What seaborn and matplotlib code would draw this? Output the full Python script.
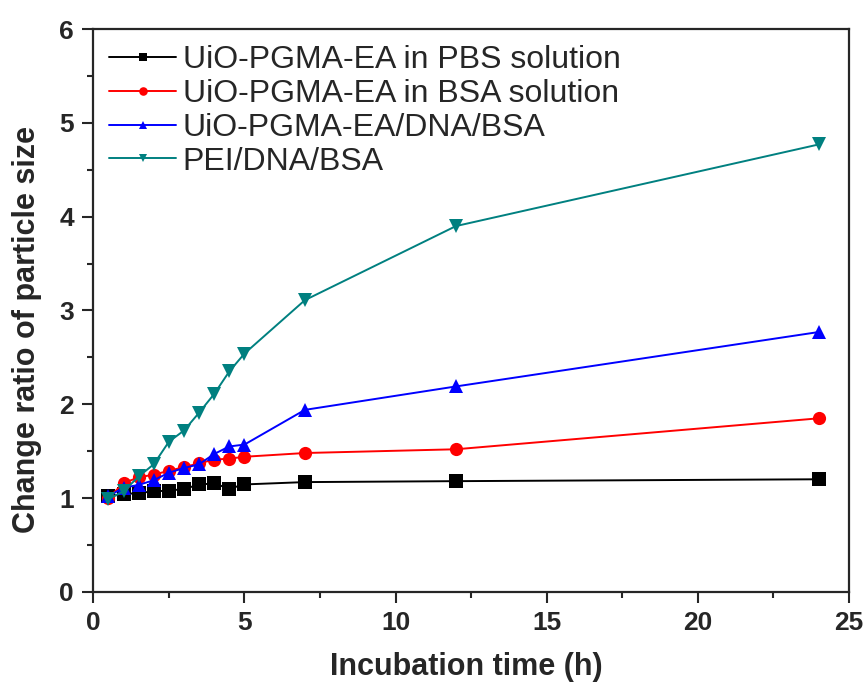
import matplotlib
matplotlib.use('Agg')
import matplotlib.pyplot as plt
import seaborn as sns
import pandas as pd
from matplotlib.ticker import MultipleLocator

# incubation time (h)
time_h = [0.5, 1, 1.5, 2, 2.5, 3, 3.5, 4, 4.5, 5, 7, 12, 24]

# change ratio of particle size for each sample
pbs = [1.02, 1.04, 1.055, 1.07, 1.08, 1.095, 1.145, 1.155, 1.10, 1.145, 1.17, 1.18, 1.20]
bsa = [1.00, 1.16, 1.22, 1.25, 1.29, 1.33, 1.37, 1.41, 1.42, 1.44, 1.48, 1.52, 1.85]
dna_bsa = [1.02, 1.11, 1.14, 1.19, 1.27, 1.32, 1.36, 1.47, 1.55, 1.57, 1.94, 2.19, 2.77]
pei = [0.99, 1.07, 1.23, 1.36, 1.60, 1.72, 1.91, 2.11, 2.35, 2.54, 3.11, 3.90, 4.77]

labels = ['UiO-PGMA-EA in PBS solution', 'UiO-PGMA-EA in BSA solution',
          'UiO-PGMA-EA/DNA/BSA', 'PEI/DNA/BSA']
colors = ['black', '#ff0000', '#0000ff', '#008080']
markers = ['s', 'o', '^', 'v']

frames = []
for lab, vals in zip(labels, [pbs, bsa, dna_bsa, pei]):
    frames.append(pd.DataFrame({'time': time_h, 'ratio': vals, 'sample': lab}))
df = pd.concat(frames, ignore_index=True)

sns.set_style('ticks')
plt.rcParams['font.family'] = ['Liberation Sans', 'DejaVu Sans']

fig = plt.figure(figsize=(8.68, 6.93), dpi=100)
ax = fig.add_axes([0.1075, 0.146, 0.8705, 0.812])

sns.lineplot(data=df, x='time', y='ratio', hue='sample', style='sample',
             hue_order=labels, style_order=labels, palette=colors,
             markers=markers, dashes=False, markersize=9.5, markeredgewidth=0,
             linewidth=1.4, ax=ax)

ax.set_xlim(0, 25)
ax.set_ylim(0, 6)
ax.xaxis.set_major_locator(MultipleLocator(5))
ax.xaxis.set_minor_locator(MultipleLocator(2.5))
ax.yaxis.set_major_locator(MultipleLocator(1))
ax.yaxis.set_minor_locator(MultipleLocator(0.5))
ax.tick_params(which='major', direction='out', length=8, width=1.5,
               labelsize=19, pad=6)
ax.tick_params(which='minor', direction='out', length=4, width=1.5)
for t in ax.get_xticklabels() + ax.get_yticklabels():
    t.set_fontweight('bold')
for s in ax.spines.values():
    s.set_linewidth(1.6)
    s.set_visible(True)

ax.set_xlabel('Incubation time (h)', fontsize=22, fontweight='bold', labelpad=12)
ax.set_ylabel('Change ratio of particle size', fontsize=22, fontweight='bold', labelpad=12)
ax.xaxis.label.set_x(0.494)
ax.yaxis.label.set_y(0.467)

ax.legend(loc='upper left', frameon=False, fontsize=23, handlelength=2.1,
          handletextpad=0.2, labelspacing=0.12, borderaxespad=0.1,
          markerscale=0.65, bbox_to_anchor=(0.0, 1.0))

fig.savefig('out.png', dpi=100)
